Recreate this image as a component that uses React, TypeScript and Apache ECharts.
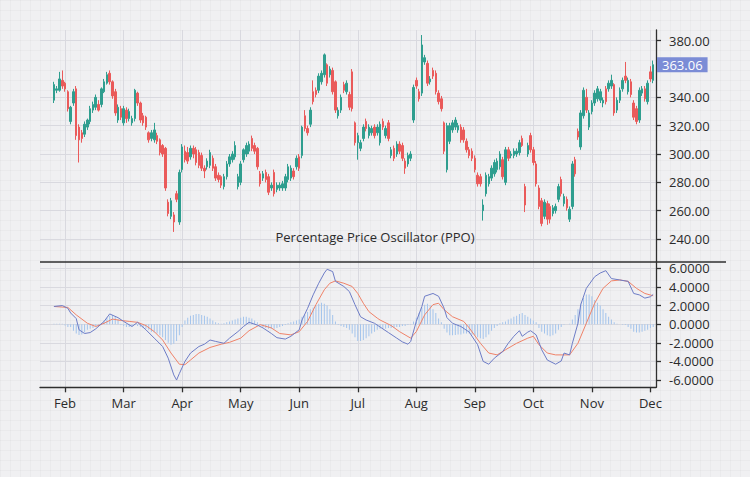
import { useEffect, useRef } from 'react';
import * as echarts from 'echarts';

// ---- categories (trading days) ----
const MONTHS = ['Jan', 'Feb', 'Mar', 'Apr', 'May', 'Jun', 'Jul', 'Aug', 'Sep', 'Oct', 'Nov', 'Dec'];
const MONTH_COUNTS = [4, 21, 21, 21, 21, 21, 21, 21, 21, 21, 21, 2];
const PAD_BEFORE = 5;
const PAD_AFTER = 1;

// ---- candles [open, close, low, high] ----
const ohlcJan = [[338, 349, 336, 351], [345, 346, 343, 348], [345, 353, 344, 358], [352, 348, 346, 359]];
const ohlcFeb = [
  [350, 346, 344, 351], [344, 332, 330, 345], [323, 333, 321, 334], [336, 344, 334, 346], [346, 313, 310, 348],
  [319, 310, 294, 321], [315, 311, 308, 317], [314, 321, 312, 323], [319, 324, 317, 325], [323, 332, 321, 334],
  [331, 335, 329, 337], [333, 340, 331, 342], [335, 331, 330, 338], [335, 346, 333, 347], [344, 351, 343, 353],
  [350, 356, 349, 358], [357, 351, 349, 359], [351, 341, 339, 352], [344, 329, 327, 346], [324, 333, 322, 335],
  [332, 326, 324, 334],
];
const ohlcMar = [
  [322, 332, 320, 334], [331, 325, 322, 333], [325, 330, 323, 332], [322, 325, 320, 327], [325, 345, 323, 346],
  [343, 336, 334, 344], [336, 324, 322, 337], [327, 322, 320, 329], [326, 319, 317, 327], [315, 310, 308, 316],
  [311, 315, 309, 317], [310, 317, 308, 322], [313, 309, 307, 315], [310, 301, 299, 311], [306, 300, 298, 307],
  [304, 276, 274, 305], [266, 258, 256, 268], [256, 267, 254, 269], [257, 252, 245, 259], [272, 268, 266, 274],
  [252, 287, 250, 289],
];
const ohlcApr = [
  [289, 305, 287, 307], [302, 296, 294, 306], [301, 295, 293, 305], [298, 304, 296, 306], [304, 300, 297, 306],
  [303, 294, 292, 305], [301, 292, 290, 303], [299, 290, 288, 301], [290, 288, 283, 292], [291, 295, 289, 297],
  [292, 301, 290, 303], [297, 290, 288, 299], [291, 283, 281, 293], [285, 282, 280, 287], [284, 278, 276, 285],
  [277, 284, 275, 286], [284, 293, 282, 295], [293, 298, 291, 300], [296, 300, 294, 302], [298, 306, 296, 309],
  [277, 284, 275, 286],
];
const ohlcMay = [
  [280, 293, 278, 295], [296, 303, 294, 304], [300, 306, 298, 308], [302, 307, 300, 309], [311, 304, 302, 313],
  [306, 302, 300, 308], [304, 291, 289, 305], [286, 279, 277, 288], [283, 286, 281, 288], [287, 282, 280, 289],
  [284, 273, 271, 286], [276, 278, 274, 280], [287, 272, 270, 289], [275, 278, 273, 280], [276, 278, 274, 280],
  [276, 279, 274, 281], [276, 284, 274, 286], [282, 291, 280, 293], [283, 290, 281, 292], [288, 284, 282, 290],
  [291, 297, 289, 299],
];
const ohlcJun = [
  [298, 290, 288, 300], [299, 319, 297, 320], [327, 318, 316, 331], [318, 315, 313, 320], [321, 331, 319, 333],
  [344, 337, 335, 352], [345, 342, 340, 347], [345, 355, 343, 357], [351, 357, 349, 359], [356, 370, 354, 371],
  [363, 350, 348, 364], [356, 360, 354, 362], [359, 344, 342, 361], [351, 331, 329, 352], [327, 331, 325, 333],
  [331, 340, 329, 342], [349, 345, 343, 351], [344, 350, 342, 352], [342, 333, 331, 344], [358, 332, 330, 360],
  [322, 308, 306, 323],
];
const ohlcJul = [
  [308, 313, 296, 315], [304, 308, 302, 310], [311, 319, 309, 321], [323, 318, 316, 325], [313, 319, 311, 321],
  [315, 318, 313, 320], [319, 313, 311, 321], [315, 319, 313, 321], [308, 321, 306, 323], [323, 319, 317, 325],
  [313, 318, 311, 320], [322, 311, 309, 324], [299, 303, 297, 305], [304, 297, 295, 306], [300, 307, 298, 309],
  [307, 302, 300, 309], [306, 297, 295, 308], [295, 290, 286, 297], [293, 299, 291, 301], [297, 300, 295, 302],
  [324, 347, 322, 349],
];
const ohlcAug = [
  [352, 348, 346, 354], [344, 339, 337, 346], [343, 377, 341, 384], [365, 368, 363, 370], [364, 350, 348, 366],
  [351, 353, 349, 355], [359, 355, 353, 361], [357, 344, 342, 359], [343, 337, 335, 345], [339, 332, 330, 341],
  [322, 302, 300, 323], [289, 320, 287, 322], [309, 320, 307, 322], [317, 322, 315, 324], [319, 324, 317, 326],
  [317, 320, 315, 322], [319, 310, 308, 321], [317, 310, 308, 319], [309, 303, 301, 311], [303, 299, 297, 305],
  [302, 297, 295, 304],
];
const ohlcSep = [
  [297, 289, 287, 299], [285, 279, 277, 287], [284, 279, 277, 286], [260, 264, 253, 268], [272, 285, 270, 287],
  [279, 284, 277, 286], [283, 290, 281, 292], [286, 294, 284, 296], [289, 295, 287, 297], [291, 300, 289, 302],
  [296, 284, 282, 298], [280, 303, 278, 305], [303, 297, 295, 305], [299, 300, 297, 302], [299, 302, 297, 304],
  [300, 302, 298, 304], [301, 308, 299, 310], [311, 306, 305, 313], [277, 264, 259, 279], [300, 306, 298, 308],
  [313, 303, 301, 315],
];
const ohlcOct = [
  [303, 294, 292, 305], [293, 279, 277, 295], [276, 263, 261, 278], [267, 251, 249, 269], [256, 266, 254, 268],
  [265, 254, 250, 267], [263, 254, 251, 265], [258, 262, 256, 264], [260, 263, 258, 265], [268, 277, 266, 279],
  [282, 272, 270, 284], [265, 270, 263, 272], [268, 262, 260, 270], [254, 261, 252, 263], [263, 293, 261, 295],
  [296, 286, 284, 298], [316, 312, 310, 318], [305, 329, 303, 331], [327, 345, 325, 347], [340, 331, 329, 346],
  [319, 329, 317, 331],
];
const ohlcNov = [
  [330, 336, 328, 338], [336, 343, 334, 345], [339, 346, 337, 348], [338, 344, 336, 346], [336, 338, 333, 340],
  [346, 337, 335, 348], [346, 350, 344, 352], [348, 352, 346, 356], [349, 329, 327, 350], [331, 338, 329, 340],
  [338, 345, 336, 347], [346, 352, 344, 354], [355, 352, 350, 365], [344, 352, 342, 354], [351, 342, 340, 353],
  [336, 326, 324, 338], [332, 323, 321, 334], [324, 345, 322, 347], [343, 346, 341, 348], [346, 339, 337, 348],
  [337, 350, 335, 352],
];
const ohlcDec = [[358, 353, 351, 362], [352, 363.06, 350, 366]];
const LAST_PRICE = 363.06;

// ---- PPO histogram (one bar per trading day) ----
const histJan = [0.05, 0.05, 0.05, 0.05];
const histFeb = [-0.15, -0.3, -0.3, -0.7, -1.0, -1.15, -1.1, -0.9, -0.6, -0.5, -0.4, -0.2, -0.1, 0.1, 0.4, 0.7, 0.9, 1.0, 0.8, 0.5, -0.1];
const histMar = [-0.2, -0.3, -0.3, -0.2, -0.1, -0.2, -0.3, -0.4, -0.5, -0.6, -0.8, -0.9, -1.0, -1.2, -1.4, -1.7, -2.0, -2.2, -2.1, -1.8, -1.2];
const histApr = [-0.3, 0.4, 0.7, 0.9, 1.0, 1.1, 1.1, 1.0, 0.9, 0.8, 0.6, 0.4, 0.2, 0.1, 0.05, 0.1, 0.2, 0.3, 0.4, 0.5, 0.6];
const histMay = [0.7, 0.8, 0.8, 0.7, 0.6, 0.4, 0.2, -0.1, -0.3, -0.4, -0.5, -0.5, -0.5, -0.4, -0.3, -0.2, -0.1, 0.1, 0.2, 0.3, 0.4];
const histJun = [0.5, 0.8, 1.0, 1.3, 1.6, 1.8, 2.0, 2.2, 2.3, 2.2, 2.0, 1.6, 1.0, 0.3, -0.1, -0.2, -0.3, -0.4, -0.6, -1.0, -1.4];
const histJul = [-1.8, -1.8, -1.7, -1.5, -1.3, -1.0, -0.8, -0.6, -0.5, -0.5, -0.5, -0.4, -0.4, -0.4, -0.3, -0.3, -0.2, -0.2, -0.1, -0.05, 0.3];
const histAug = [0.7, 1.2, 1.8, 2.1, 2.2, 2.0, 1.6, 1.2, 0.6, 0.2, -0.5, -0.9, -1.2, -1.2, -1.15, -1.1, -1.1, -1.0, -1.0, -1.0, -1.1];
const histSep = [-1.2, -1.4, -1.5, -1.6, -1.4, -1.1, -0.7, -0.4, -0.2, 0.1, 0.2, 0.3, 0.5, 0.6, 0.8, 0.9, 1.1, 1.2, 1.0, 0.8, 0.6];
const histOct = [0.4, 0.2, -0.4, -0.8, -1.0, -1.2, -1.3, -1.2, -1.0, -0.6, -0.3, -0.05, 0, 0.05, 0.5, 1.0, 1.6, 2.2, 2.8, 3.2, 3.2];
const histNov = [3.0, 2.6, 2.3, 2.0, 1.6, 1.2, 0.8, 0.5, 0.2, 0.05, 0, -0.05, -0.1, -0.3, -0.5, -0.8, -0.9, -0.9, -0.8, -0.7, -0.6];
const histDec = [-0.4, -0.3];

// ---- PPO line (trading-day index, value) ----
const ppoIdx = [5, 8, 10, 11, 13, 14, 16, 18, 20, 23, 25, 28, 30, 33, 35, 38, 41, 44, 46, 48, 49, 50, 52, 54, 57, 59, 61, 63, 66, 68, 71, 73, 75, 78, 80, 83, 85, 88, 90, 93, 94, 96, 98, 100, 102, 103, 105, 106, 109, 111, 113, 115, 117, 120, 122, 125, 128, 130, 132, 133, 135, 137, 138, 141, 143, 145, 146, 148, 151, 154, 157, 159, 161, 163, 166, 168, 170, 172, 173, 175, 176, 178, 180, 182, 185, 187, 188, 190, 191, 193, 194, 196, 199, 201, 203, 205, 208, 211, 213, 215, 217, 219, 220];
const ppoVal = [1.9, 2.0, 1.7, 1.2, 0.6, -0.6, -1.0, -0.9, -0.5, 0.3, 1.1, 0.7, 0.3, -0.25, 0.2, -0.6, -1.5, -2.4, -3.65, -5.45, -6.0, -5.3, -4.0, -3.1, -2.4, -2.15, -1.7, -1.85, -2.05, -1.5, -0.8, -0.25, 0.2, -0.1, -0.4, -1.0, -1.45, -1.6, -1.3, -0.6, 0.45, 1.7, 3.15, 4.4, 5.5, 5.9, 5.65, 4.6, 4.05, 3.5, 2.1, 0.8, 0.45, 0.1, -0.3, -0.9, -1.5, -1.9, -2.15, -1.85, 0.3, 1.9, 3.0, 3.3, 3.0, 1.7, 0.7, 0.1, -0.25, -0.85, -2.2, -4.0, -4.3, -3.65, -2.95, -2.05, -1.3, -0.7, -1.3, -0.85, -0.7, -1.15, -2.75, -3.85, -4.3, -3.95, -3.1, -3.3, -2.05, 0.1, 2.1, 3.85, 5.1, 5.5, 5.75, 4.9, 4.75, 4.6, 3.3, 3.15, 2.8, 2.95, 3.2];

// ---- Signal line (trading-day index, value) ----
const sigIdx = [5, 10, 13, 17, 20, 23, 26, 29, 32, 35, 38, 41, 44, 47, 50, 52, 54, 57, 61, 65, 68, 72, 75, 79, 83, 86, 90, 93, 96, 99, 102, 104, 106, 109, 112, 114, 116, 118, 121, 122, 126, 129, 133, 135, 138, 141, 143, 145, 148, 152, 154, 158, 161, 164, 167, 171, 175, 177, 179, 182, 185, 190, 193, 196, 199, 202, 205, 208, 211, 214, 217, 220];
const sigVal = [1.9, 1.8, 1.0, 0.1, -0.25, 0.1, 0.55, 0.4, 0.3, 0.2, -0.15, -0.8, -1.7, -3.1, -4.3, -4.35, -3.85, -3.1, -2.5, -2.15, -1.95, -1.5, -0.7, -0.05, -0.4, -1.0, -1.15, -0.8, 0.3, 2.1, 3.7, 4.4, 4.65, 4.4, 4.05, 3.3, 2.25, 1.35, 0.65, 0.45, -0.15, -0.8, -1.5, -0.8, 1.0, 2.1, 2.25, 1.55, 0.8, 0.3, -0.4, -2.05, -3.1, -3.3, -2.75, -2.05, -1.5, -1.3, -2.2, -3.1, -3.3, -3.3, -2.05, 0.1, 2.25, 3.85, 4.65, 4.75, 4.6, 3.85, 3.3, 3.05];

// ---- axis tick labels ----
const PRICE_TICKS = [240, 260, 280, 300, 320, 340, 380];
const PPO_TICKS = [-6, -4, -2, 0, 2, 4, 6];

const TEXT = '#2b2b2b';
const AXIS = '#2f2f2f';
const GRID = '#d9d9df';
const UP = '#2f9e8f';
const DOWN = '#ea5a5a';
const FONT = 'Open Sans';

export default function App() {
  const ref = useRef<HTMLDivElement>(null);

  useEffect(() => {
    if (!ref.current) return;
    const chart = echarts.init(ref.current, undefined, { renderer: 'svg' });

    const categories: string[] = [];
    const monthStart = new Set<number>();
    for (let p = 0; p < PAD_BEFORE; p++) categories.push('pre' + p);
    MONTHS.forEach((m, k) => {
      for (let d = 0; d < MONTH_COUNTS[k]; d++) {
        if (d === 0 && k > 0) monthStart.add(categories.length);
        categories.push(m + ' ' + (d + 1));
      }
    });
    for (let p = 0; p < PAD_AFTER; p++) categories.push('post' + p);
    const isMonth = (index: number) => monthStart.has(index);

    const ohlc = [
      ...ohlcJan, ...ohlcFeb, ...ohlcMar, ...ohlcApr, ...ohlcMay, ...ohlcJun,
      ...ohlcJul, ...ohlcAug, ...ohlcSep, ...ohlcOct, ...ohlcNov, ...ohlcDec,
    ];
    const hist = [
      ...histJan, ...histFeb, ...histMar, ...histApr, ...histMay, ...histJun,
      ...histJul, ...histAug, ...histSep, ...histOct, ...histNov, ...histDec,
    ];
    const candleData = ohlc.map((c, k) => [PAD_BEFORE + k, c[0], c[1], c[2], c[3]]);
    const histData = hist.map((v, k) => [PAD_BEFORE + k, v]);
    const ppoData = ppoIdx.map((x, k) => [x, ppoVal[k]]);
    const sigData = sigIdx.map((x, k) => [x, sigVal[k]]);

    const labelStyle = { color: TEXT, fontSize: 13, fontFamily: FONT };

    chart.setOption({
      animation: false,
      textStyle: { fontFamily: FONT },
      title: {
        text: 'Percentage Price Oscillator (PPO)',
        left: 'center',
        top: 230,
        padding: 0,
        textStyle: { fontSize: 13, fontWeight: 'normal', color: TEXT, fontFamily: FONT },
      },
      grid: [
        { left: 40, width: 616, top: 30, height: 232 },
        { left: 40, width: 616, top: 262, height: 125.3 },
      ],
      xAxis: [
        {
          type: 'category', gridIndex: 0, data: categories, boundaryGap: false,
          axisLine: { show: false, onZero: false }, axisTick: { show: false }, axisLabel: { show: false },
          splitLine: { show: true, interval: isMonth, lineStyle: { color: GRID, width: 1 } },
        },
        {
          type: 'category', gridIndex: 1, data: categories, boundaryGap: false,
          axisLine: { show: true, onZero: false, lineStyle: { color: AXIS, width: 1.3 } },
          axisTick: { show: true, interval: isMonth, length: 5, lineStyle: { color: AXIS, width: 1.3 } },
          axisLabel: { ...labelStyle, interval: isMonth, margin: 9, formatter: (v: string) => v.split(' ')[0] },
          splitLine: { show: true, interval: isMonth, lineStyle: { color: GRID, width: 1 } },
        },
      ],
      yAxis: [
        {
          type: 'value', gridIndex: 0, position: 'right', min: 223.76, max: 387.56,
          axisLine: { show: true, lineStyle: { color: AXIS, width: 1.3 } },
          axisTick: { show: true, length: 5, customValues: PRICE_TICKS, lineStyle: { color: AXIS, width: 1.3 } },
          axisLabel: { ...labelStyle, margin: 13, customValues: PRICE_TICKS, formatter: (v: number) => v.toFixed(2) },
          splitLine: { show: true, lineStyle: { color: GRID, width: 1 } },
        },
        {
          type: 'value', gridIndex: 1, position: 'right', min: -6.78, max: 6.68,
          axisLine: { show: true, lineStyle: { color: AXIS, width: 1.3 } },
          axisTick: { show: true, length: 5, customValues: PPO_TICKS, lineStyle: { color: AXIS, width: 1.3 } },
          axisLabel: { ...labelStyle, margin: 13, customValues: PPO_TICKS, formatter: (v: number) => v.toFixed(4) },
          splitLine: { show: true, lineStyle: { color: GRID, width: 1 } },
        },
      ],
      graphic: [
        {
          type: 'line', shape: { x1: 40, y1: 262, x2: 726, y2: 262 },
          style: { stroke: AXIS, lineWidth: 1.3 }, z: 100,
        },
      ],
      series: [
        {
          type: 'candlestick', xAxisIndex: 0, yAxisIndex: 0, data: candleData,
          encode: { x: 0, y: [1, 2, 3, 4] },
          barWidth: 2,
          itemStyle: { color: UP, color0: DOWN, borderColor: UP, borderColor0: DOWN, borderWidth: 1 },
          markLine: {
            silent: true, symbol: ['none', 'none'],
            lineStyle: { width: 0, color: 'rgba(0,0,0,0)', type: 'solid' },
            data: [{ yAxis: LAST_PRICE }],
            label: {
              show: true, position: 'end', distance: 1,
              formatter: () => LAST_PRICE.toFixed(2),
              backgroundColor: '#7b8cd6', color: '#ffffff', fontSize: 13, fontFamily: FONT,
              padding: [1, 5, 1, 5], opacity: 1,
            },
          },
        },
        {
          type: 'bar', xAxisIndex: 1, yAxisIndex: 1, data: histData, barWidth: 1,
          itemStyle: { color: '#a3c4ec' },
        },
        {
          type: 'line', xAxisIndex: 1, yAxisIndex: 1, data: ppoData, symbol: 'none',
          lineStyle: { color: '#6d7cc6', width: 1 }, z: 5,
        },
        {
          type: 'line', xAxisIndex: 1, yAxisIndex: 1, data: sigData, symbol: 'none',
          lineStyle: { color: '#ef8268', width: 1 }, z: 4,
        },
      ],
    });

    return () => chart.dispose();
  }, []);

  return (
    <div
      style={{
        position: 'fixed', left: 0, top: 0, width: 750, height: 477,
        backgroundColor: '#f0f0f2',
        backgroundImage:
          'linear-gradient(rgba(0,0,0,0.022) 1px, transparent 1px), linear-gradient(90deg, rgba(0,0,0,0.022) 1px, transparent 1px)',
        backgroundSize: '10px 10px',
      }}
    >
      <div ref={ref} style={{ width: 750, height: 477 }} />
    </div>
  );
}
